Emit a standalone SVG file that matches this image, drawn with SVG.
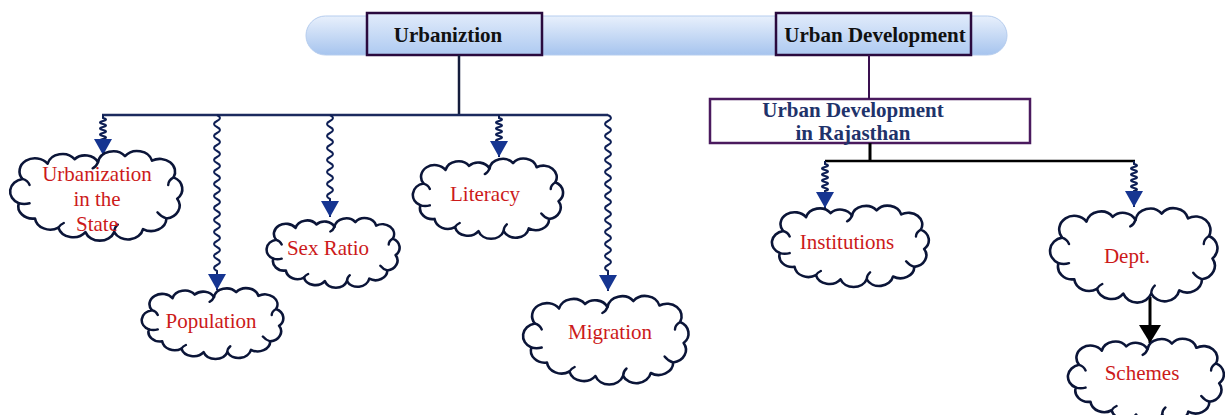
<svg xmlns="http://www.w3.org/2000/svg" xmlns:xlink="http://www.w3.org/1999/xlink" width="1225" height="415" viewBox="0 0 1225 415">
<style>
.cb{fill:#fff;stroke:#0b1538;stroke-width:2.6;stroke-linejoin:round;vector-effect:non-scaling-stroke}
.ct{fill:none;stroke:#0b1538;stroke-width:2.4;stroke-linecap:round;vector-effect:non-scaling-stroke}
.lbl{font-family:"Liberation Serif","Times New Roman",serif;font-size:21px;fill:#cc1a1a;text-anchor:middle}
.hd{font-family:"Liberation Serif","Times New Roman",serif;font-size:21px;font-weight:bold;fill:#111;text-anchor:middle}
.rj{font-family:"Liberation Serif","Times New Roman",serif;font-size:21px;font-weight:bold;fill:#1f336b;text-anchor:middle}
.wave{fill:none;stroke:#0e1f55;stroke-width:2;marker-end:url(#ah)}
.ln{fill:none;stroke:#1b2a5e;stroke-width:2.5}
.hbox{fill:url(#gb);stroke:#2a0a3e;stroke-width:2.5}
</style>
<defs>
<linearGradient id="gp" x1="0" y1="0" x2="0" y2="1">
<stop offset="0" stop-color="#e8f0fc"/><stop offset="1" stop-color="#a6c4ee"/>
</linearGradient>
<linearGradient id="gb" x1="0" y1="0" x2="0" y2="1">
<stop offset="0" stop-color="#e2ecfb"/><stop offset="1" stop-color="#aecaf1"/>
</linearGradient>
<marker id="ah" markerUnits="userSpaceOnUse" viewBox="0 0 16 18" markerWidth="16" markerHeight="18" refX="16" refY="9" orient="auto">
<path d="M0,0 L16,9 L0,18 z" fill="#163591"/>
</marker>
<marker id="ahb" markerUnits="userSpaceOnUse" viewBox="0 0 18 22" markerWidth="18" markerHeight="22" refX="18" refY="11" orient="auto">
<path d="M0,0 L18,11 L0,22 z" fill="#000"/>
</marker>
<g id="cloud">
<path class="cb" d="M6,37 A8.5 8.5 0 0 1 8,21 A8.5 8.5 0 0 1 22,11 A8.5 8.5 0 0 1 37,8 A8 8 0 0 1 50,10 A8.5 8.5 0 0 1 65,6 A8.5 8.5 0 0 1 80,9 A8.5 8.5 0 0 1 92,20 A8.5 8.5 0 0 1 94,34 A8.5 8.5 0 0 1 88,47 A8.5 8.5 0 0 1 75,54 A8.5 8.5 0 0 1 59,56 A8.5 8.5 0 0 1 43,56 A8.5 8.5 0 0 1 28,53 A8.5 8.5 0 0 1 15,47 A8 8 0 0 1 6,37 Z"/>
<path class="ct" d="M8,21 q3,1 4,4 M50,10 q-1,3 -3,4 M92,20 q-3,2 -3,5 M88,47 q-3,-1 -5,-4 M59,56 q0,-3 2,-5 M28,53 q1,-2 3,-3 M6,37 q3,1 6,0"/>
</g>
</defs>

<g id="header">
<rect x="306" y="16" width="701" height="39" rx="19.5" fill="url(#gp)" stroke="#b6cdee" stroke-width="1"/>
</g>
<g id="node-urbaniztion">
<rect class="hbox" x="367" y="13" width="175" height="42"/>
<text class="hd" x="448" y="42">Urbaniztion</text>
</g>
<g id="node-urban-development">
<rect class="hbox" x="776" y="13" width="195" height="42"/>
<text class="hd" x="875" y="42">Urban Development</text>
</g>
<g id="node-ud-rajasthan">
<rect x="710" y="99" width="320" height="44" fill="#fff" stroke="#4a1a5e" stroke-width="2.5"/>
<text class="rj" x="853" y="117">Urban Development</text>
<text class="rj" x="853" y="140">in Rajasthan</text>
</g>

<g id="connectors">
<path d="M459,55 V115" fill="none" stroke="#141c3c" stroke-width="2.5"/>
<path class="ln" d="M102,115 H608"/>
<path d="M869,55 V99" fill="none" stroke="#3a1050" stroke-width="2"/>
<path d="M870,143 V161" fill="none" stroke="#000" stroke-width="3"/>
<path d="M825,161 H1135" fill="none" stroke="#000" stroke-width="2.5"/>
<path class="wave" d="M103,115 v3 q6,1.5 0,3 t0,3 t0,3 t0,3 t0,3 t0,3 t0,3 t0,3 V155"/>
<path class="wave" d="M499,115 v3 q6,1.5 0,3 t0,3 t0,3 t0,3 t0,3 t0,3 t0,3 t0,3 V157"/>
<path class="wave" d="M825,161 v3 q6,1.5 0,3 t0,3 t0,3 t0,3 t0,3 t0,3 t0,3 t0,3 t0,3 V208"/>
<path class="wave" d="M1134,161 v3 q6,1.5 0,3 t0,3 t0,3 t0,3 t0,3 t0,3 t0,3 t0,3 t0,3 V207"/>
<path class="wave" d="M217,115 q6,3 0,6 t0,6 t0,6 t0,6 t0,6 t0,6 t0,6 t0,6 t0,6 t0,6 t0,6 t0,6 t0,6 t0,6 t0,6 t0,6 t0,6 t0,6 t0,6 t0,6 t0,6 t0,6 t0,6 t0,6 t0,6 t0,6 V290"/>
<path class="wave" d="M330,115 q6,3 0,6 t0,6 t0,6 t0,6 t0,6 t0,6 t0,6 t0,6 t0,6 t0,6 t0,6 t0,6 t0,6 t0,6 V217"/>
<path class="wave" d="M608,115 q6,3 0,6 t0,6 t0,6 t0,6 t0,6 t0,6 t0,6 t0,6 t0,6 t0,6 t0,6 t0,6 t0,6 t0,6 t0,6 t0,6 t0,6 t0,6 t0,6 t0,6 t0,6 t0,6 t0,6 t0,6 t0,6 t0,6 V291"/>
<path d="M1150,297 V343" fill="none" stroke="#000" stroke-width="3" marker-end="url(#ahb)"/>
</g>

<g id="node-urbanization-state">
<use href="#cloud" xlink:href="#cloud" transform="translate(8,147) scale(1.8,1.52)"/>
<text class="lbl" x="97" y="181">Urbanization</text>
<text class="lbl" x="97" y="206">in the</text>
<text class="lbl" x="97" y="231">State</text>
</g>
<g id="node-population">
<use href="#cloud" xlink:href="#cloud" transform="translate(140,285) scale(1.48,1.2)"/>
<text class="lbl" x="211" y="328">Population</text>
</g>
<g id="node-sex-ratio">
<use href="#cloud" xlink:href="#cloud" transform="translate(265,215) scale(1.39,1.18)"/>
<text class="lbl" x="328" y="255">Sex Ratio</text>
</g>
<g id="node-literacy">
<use href="#cloud" xlink:href="#cloud" transform="translate(411,155) scale(1.57,1.36)"/>
<text class="lbl" x="485" y="201">Literacy</text>
</g>
<g id="node-migration">
<use href="#cloud" xlink:href="#cloud" transform="translate(521,292) scale(1.73,1.5)"/>
<text class="lbl" x="610" y="339">Migration</text>
</g>
<g id="node-institutions">
<use href="#cloud" xlink:href="#cloud" transform="translate(770,202) scale(1.64,1.38)"/>
<text class="lbl" x="847" y="249">Institutions</text>
</g>
<g id="node-dept">
<use href="#cloud" xlink:href="#cloud" transform="translate(1048,204) scale(1.75,1.6)"/>
<text class="lbl" x="1127" y="263">Dept.</text>
</g>
<g id="node-schemes">
<use href="#cloud" xlink:href="#cloud" transform="translate(1066,335) scale(1.63,1.42)"/>
<text class="lbl" x="1142" y="380">Schemes</text>
</g>
</svg>
